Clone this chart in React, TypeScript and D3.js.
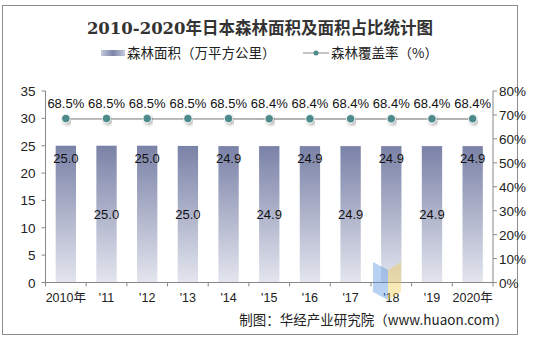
import React from "react";
import * as d3 from "d3";

const categories = ["2010年", "'11", "'12", "'13", "'14", "'15", "'16", "'17", "'18", "'19", "2020年"];
const forestArea = [25.0, 25.0, 25.0, 24.96, 24.93, 24.93, 24.93, 24.93, 24.93, 24.93, 24.93];
const coverage = [68.5, 68.5, 68.5, 68.5, 68.5, 68.4, 68.4, 68.4, 68.4, 68.4, 68.4];
const leftTicks = [0, 5, 10, 15, 20, 25, 30, 35];
const rightTicks = [0, 10, 20, 30, 40, 50, 60, 70, 80];

const W = 533, H = 339;
const M = { left: 45.5, right: 493, top: 91, bottom: 282.5 };
const FONT = "Arial, 'Liberation Sans', 'Noto Sans CJK SC', sans-serif";

export default function App() {
  const x = d3.scaleBand<string>().domain(categories).range([M.left, M.right]).paddingInner(0.5).paddingOuter(0.25);
  const band = d3.scaleBand<string>().domain(categories).range([M.left, M.right]);
  const yL = d3.scaleLinear().domain([0, 35]).range([M.bottom, M.top]);
  const yR = d3.scaleLinear().domain([0, 80]).range([M.bottom, M.top]);
  const line = d3.line<number>().x((_, i) => band(categories[i])! + band.bandwidth() / 2).y((d) => yR(d));

  return (
    <svg width={W} height={H} style={{ position: "absolute", left: 0, top: 0, background: "#fff" }} fontFamily={FONT}>
      <defs>
        <linearGradient id="barGrad" x1="0" y1="0" x2="0" y2="1">
          <stop offset="0%" stopColor="#7a82a7" />
          <stop offset="100%" stopColor="#e3e5ee" />
        </linearGradient>
        <linearGradient id="legGrad" x1="0" y1="0" x2="1" y2="0">
          <stop offset="0%" stopColor="#c5c9da" />
          <stop offset="50%" stopColor="#7c84a8" />
          <stop offset="100%" stopColor="#c5c9da" />
        </linearGradient>
        <filter id="shadow" x="-10%" y="-50%" width="120%" height="250%">
          <feDropShadow dx="1.5" dy="2" stdDeviation="1.5" floodColor="#000" floodOpacity="0.3" />
        </filter>
      </defs>
      <rect x={2.5} y={5.5} width={515} height={329} fill="#fff" stroke="#8c8c8c" strokeWidth={1} />

      {/* title */}
      <text x={260} y={34} textAnchor="middle" fontSize={16.5} fontWeight="bold" fill="#333"
        fontFamily="'DejaVu Serif', 'Noto Sans CJK SC', serif">
        2010-2020年日本森林面积及面积占比统计图
      </text>

      {/* legend */}
      <rect x={101} y={50} width={24} height={6} fill="url(#legGrad)" />
      <text x={127} y={58} fontSize={13.5} fill="#222" fontFamily="'Noto Sans CJK SC', sans-serif">森林面积（万平方公里）</text>
      <line x1={303} x2={329} y1={53} y2={53} stroke="#b0b0b0" strokeWidth={1.5} />
      <circle cx={316} cy={53} r={2.5} fill="#4e8a8b" />
      <text x={331} y={58} fontSize={13.5} fill="#222" fontFamily="'Noto Sans CJK SC', sans-serif">森林覆盖率（%）</text>

      {/* bars */}
      {forestArea.map((v, i) => (
        <rect key={i} x={x(categories[i])!} y={yL(v)} width={x.bandwidth()} height={yL(0) - yL(v)} fill="url(#barGrad)" />
      ))}
      {forestArea.map((v, i) => (
        <text key={"bl" + i} x={x(categories[i])! + x.bandwidth() / 2} y={i % 2 === 0 ? yL(v) + 17 : yL(v / 2) + 5}
          textAnchor="middle" fontSize={13} fill="#111">{v.toFixed(1)}</text>
      ))}

      {/* line */}
      <path d={line(coverage)!} fill="none" stroke="#b5b5b5" strokeWidth={2.5} filter="url(#shadow)" />
      {coverage.map((v, i) => (
        <circle key={"c" + i} cx={band(categories[i])! + band.bandwidth() / 2} cy={yR(v)} r={4.2}
          fill="#4e8a8b" stroke="#fff" strokeWidth={0.8} filter="url(#shadow)" />
      ))}
      {coverage.map((v, i) => (
        <text key={"cl" + i} x={band(categories[i])! + band.bandwidth() / 2} y={yR(v) - 11}
          textAnchor="middle" fontSize={13} fill="#111">{v.toFixed(1)}%</text>
      ))}

      {/* left axis */}
      <line x1={M.left} x2={M.left} y1={M.top} y2={M.bottom} stroke="#888" />
      {leftTicks.map((t) => (
        <g key={"l" + t}>
          <line x1={M.left - 4} x2={M.left} y1={yL(t)} y2={yL(t)} stroke="#888" />
          <text x={M.left - 10} y={yL(t) + 5} textAnchor="end" fontSize={13.5} fill="#222">{t}</text>
        </g>
      ))}
      {/* right axis */}
      <line x1={M.right} x2={M.right} y1={M.top} y2={M.bottom} stroke="#888" />
      {rightTicks.map((t) => (
        <g key={"r" + t}>
          <line x1={M.right} x2={M.right + 4} y1={yR(t)} y2={yR(t)} stroke="#888" />
          <text x={M.right + 6} y={yR(t) + 5} textAnchor="start" fontSize={13.5} fill="#222">{t}%</text>
        </g>
      ))}
      {/* x axis */}
      <line x1={M.left} x2={M.right} y1={M.bottom} y2={M.bottom} stroke="#888" />
      {categories.map((c, i) => (
        <g key={"x" + i}>
          <line x1={band(c)!} x2={band(c)!} y1={M.bottom} y2={M.bottom + 4} stroke="#888" />
          <text x={band(c)! + band.bandwidth() / 2} y={M.bottom + 19} textAnchor="middle" fontSize={12.5} fill="#222">{c}</text>
        </g>
      ))}
      <line x1={M.right} x2={M.right} y1={M.bottom} y2={M.bottom + 4} stroke="#888" />

      {/* watermark logo (decorative) */}
      <g opacity={0.4}>
        <polygon points="373,262 388,270 388,300 373,292" fill="#4d8fe0" />
        <polygon points="388,270 401,262 401,292 388,300" fill="#f0c94a" />
      </g>

      {/* source */}
      <text x={508} y={325} textAnchor="end" fontSize={13.5} fill="#222" fontFamily="'Noto Sans CJK SC', sans-serif">
        制图：华经产业研究院（www.huaon.com）
      </text>
    </svg>
  );
}
